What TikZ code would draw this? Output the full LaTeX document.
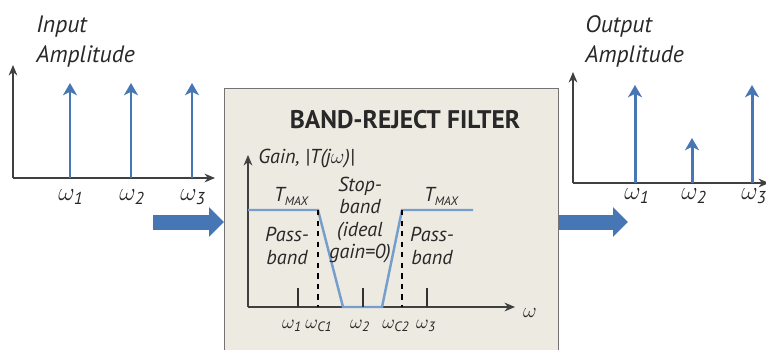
\documentclass[tikz,border=0pt]{standalone}
\usepackage{amsmath}
\usepackage{fontspec}
\setmainfont{PT Sans}
\usetikzlibrary{arrows.meta}
\definecolor{spikeblue}{RGB}{70,118,180}
\definecolor{curveblue}{RGB}{118,158,205}
\definecolor{boxfill}{RGB}{237,234,226}
\definecolor{inkgray}{RGB}{40,40,40}
\tikzset{
    axis/.style={line width=0.6pt, black!75, -{Stealth[length=6pt, width=5pt]}},
    spike/.style={spikeblue, line width=1.7pt, -{Stealth[length=7pt, width=8pt, inset=2pt]}},
    bigarrow/.style={spikeblue, line width=0.3cm, -{Triangle[length=0.3cm, width=0.58cm]}},
    biglbl/.style={font=\itshape\fontsize{13.5}{15}\selectfont, text=inkgray, inner sep=0pt, anchor=base west},
    wlbl/.style={font=\fontsize{14}{16}\selectfont, text=inkgray, inner sep=0pt},
    smallw/.style={font=\fontsize{11}{12}\selectfont, text=inkgray, inner sep=0pt},
    txt/.style={font=\itshape\fontsize{11.5}{12.8}\selectfont, text=inkgray, inner sep=0pt, align=center},
}
\newcommand{\wsub}[1]{$\omega_{\textit{#1}}$}
\newcommand{\tmax}{\textit{T}\raisebox{-0.4ex}{\fontsize{7}{8}\selectfont\itshape MAX}}
\begin{document}
\begin{tikzpicture}[x=0.02cm, y=-0.02cm]
        \useasboundingbox (0, 0) rectangle (766, 349);
        % input spectrum
        \node[biglbl] (intop) at (36, 32) {Input};
        \node[biglbl] (inbot) at (36, 62) {Amplitude};
        \coordinate (inO) at (13, 178);
        \coordinate (inY) at (13, 65);
        \coordinate (inX) at (215, 178);
        \draw[axis] (inO) -- (inY);
        \draw[axis] (inO) -- (inX);
        \foreach \x/\n in {70/1, 131/2, 192/3}{
            \coordinate (inb\n) at (\x, 178);
            \coordinate (int\n) at (\x, 83);
            \draw[spike] (inb\n) -- (int\n);
            \node[wlbl] (inw\n) at (\x + 1, 197) {\wsub{\n}};
        }
        % filter block
        \node[draw=black!55, line width=0.8pt, fill=boxfill, anchor=north west,
            minimum width=6.68cm, minimum height=5.5cm] (filter) at (224, 88) {};
        \node[font=\bfseries\fontsize{14.5}{17}\selectfont, text=inkgray, inner sep=0pt] (title) at (405, 120) {BAND-REJECT FILTER};
        \coordinate (gO) at (248, 307);
        \coordinate (gY) at (248, 155);
        \coordinate (gX) at (515, 307);
        \draw[axis] (gO) -- (gY);
        \draw[axis] (gO) -- (gX);
        \node[txt, anchor=west] (gain) at (258, 159) {Gain, |T(j$\omega$)|};
        \node[font=\fontsize{13}{15}\selectfont, text=inkgray, inner sep=0pt] (wax) at (530, 313) {$\omega$};
        % gain curve
        \coordinate (p0) at (248, 210);
        \coordinate (c1) at (318, 210);
        \coordinate (s1) at (343, 307);
        \coordinate (s2) at (382, 307);
        \coordinate (c2) at (402, 210);
        \coordinate (p1) at (473, 210);
        \draw[curveblue, line width=1.4pt] (p0) -- (c1) -- (s1) -- (s2) -- (c2) -- (p1);
        \draw[thick, dashed] (c1) -- (c1 |- gO);
        \draw[thick, dashed] (c2) -- (c2 |- gO);
        \foreach \x/\n in {298/1, 363/2, 427/3}{
            \coordinate (tk\n) at (\x, 288);
            \draw[thick, black!80] (tk\n) -- (tk\n |- gO);
        }
        \node[smallw] (gw1) at (292, 326) {\wsub{1}};
        \node[smallw] (gwc1) at (319, 326) {$\omega_{\textit{C1}}$};
        \node[smallw] (gw2) at (360, 326) {\wsub{2}};
        \node[smallw] (gwc2) at (396, 326) {$\omega_{\textit{C2}}$};
        \node[smallw] (gw3) at (426, 326) {\wsub{3}};
        \node[txt] (tmaxl) at (291, 196) {\tmax};
        \node[txt] (tmaxr) at (441, 196) {\tmax};
        \node[txt] (passl) at (287, 246) {Pass-\\band};
        \node[txt] (passr) at (432, 246) {Pass-\\band};
        \node[txt] (stop) at (360, 220) {Stop-\\band\\(ideal\\gain=0)};
        % arrows in and out
        \coordinate (arrin) at (153, 222);
        \coordinate (arrout) at (628, 222);
        \draw[bigarrow] (arrin) -- (arrin -| filter.west);
        \draw[bigarrow] (arrin -| filter.east) -- (arrout);
        % output spectrum
        \node[biglbl] (outtop) at (585, 32) {Output};
        \node[biglbl] (outbot) at (585, 62) {Amplitude};
        \coordinate (outO) at (573, 183);
        \coordinate (outY) at (573, 72);
        \coordinate (outX) at (769, 183);
        \draw[axis] (outO) -- (outY);
        \draw[axis] (outO) -- (outX);
        \foreach \x/\t/\n in {635/85/1, 692/138/2, 752/85/3}{
            \coordinate (outb\n) at (\x, 183);
            \coordinate (outt\n) at (\x, \t);
            \draw[spike] (outb\n) -- (outt\n);
            \node[wlbl] (outw\n) at (\x + 2, 196) {\wsub{\n}};
        }
    \end{tikzpicture}
\end{document}
